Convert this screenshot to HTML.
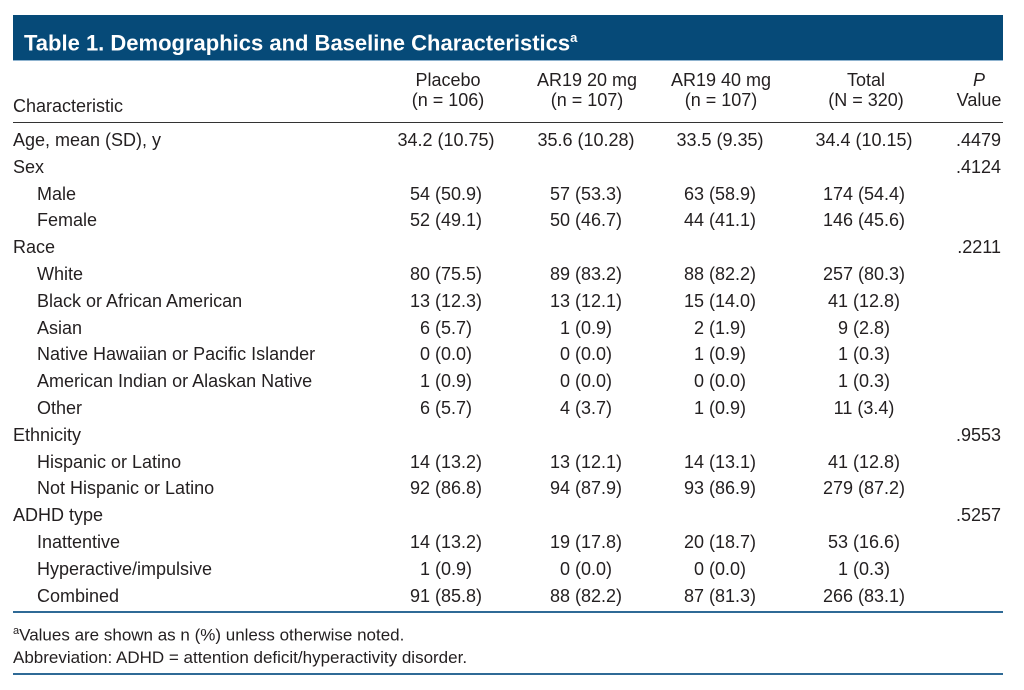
<!DOCTYPE html>
<html><head><meta charset="utf-8"><style>
body{margin:0;width:1024px;height:690px;background:#fff;font-family:"Liberation Sans",sans-serif;color:#231f20;position:relative;overflow:hidden}
.t{position:absolute;font-size:18px;white-space:nowrap;line-height:20px}
.c{transform:translateX(-50%)}
.r{transform:translateX(-100%)}
.hline{position:absolute;left:13px;width:990px;height:2px;background:#2f6a96}
</style></head><body>
<div style="position:absolute;left:13px;top:15px;width:990px;height:45px;background:#064a78;border-bottom:1px solid #8fb3cf"></div>
<div class="t" style="left:24px;top:25px;color:#fff;font-size:22px;font-weight:bold;line-height:26px">Table 1. Demographics and Baseline Characteristics<sup style="font-size:13px">a</sup></div>

<div class="t" style="left:13px;top:96px">Characteristic</div>
<div class="t c" style="left:448px;top:70px;text-align:center">Placebo<br>(n = 106)</div>
<div class="t c" style="left:587px;top:70px;text-align:center">AR19 20 mg<br>(n = 107)</div>
<div class="t c" style="left:721px;top:70px;text-align:center">AR19 40 mg<br>(n = 107)</div>
<div class="t c" style="left:866px;top:70px;text-align:center">Total<br>(N = 320)</div>
<div class="t c" style="left:979px;top:70px;text-align:center"><i>P</i><br>Value</div>
<div class="hline" style="top:122px;height:1px;background:#333"></div>

<div id="rows"></div>

<div class="hline" style="top:611px"></div>
<div class="t" style="left:13px;top:621px;font-size:17px"><sup style="font-size:11px">a</sup>Values are shown as n (%) unless otherwise noted.</div>
<div class="t" style="left:13px;top:648px;font-size:17px">Abbreviation: ADHD = attention deficit/hyperactivity disorder.</div>
<div class="hline" style="top:673px"></div>

<script>
const labels=["Age, mean (SD), y","Sex","Male","Female","Race","White","Black or African American","Asian","Native Hawaiian or Pacific Islander","American Indian or Alaskan Native","Other","Ethnicity","Hispanic or Latino","Not Hispanic or Latino","ADHD type","Inattentive","Hyperactive/impulsive","Combined"];
const indent=[0,0,1,1,0,1,1,1,1,1,1,0,1,1,0,1,1,1];
const placebo=["34.2 (10.75)","","54 (50.9)","52 (49.1)","","80 (75.5)","13 (12.3)","6 (5.7)","0 (0.0)","1 (0.9)","6 (5.7)","","14 (13.2)","92 (86.8)","","14 (13.2)","1 (0.9)","91 (85.8)"];
const ar20=["35.6 (10.28)","","57 (53.3)","50 (46.7)","","89 (83.2)","13 (12.1)","1 (0.9)","0 (0.0)","0 (0.0)","4 (3.7)","","13 (12.1)","94 (87.9)","","19 (17.8)","0 (0.0)","88 (82.2)"];
const ar40=["33.5 (9.35)","","63 (58.9)","44 (41.1)","","88 (82.2)","15 (14.0)","2 (1.9)","1 (0.9)","0 (0.0)","1 (0.9)","","14 (13.1)","93 (86.9)","","20 (18.7)","0 (0.0)","87 (81.3)"];
const total=["34.4 (10.15)","","174 (54.4)","146 (45.6)","","257 (80.3)","41 (12.8)","9 (2.8)","1 (0.3)","1 (0.3)","11 (3.4)","","41 (12.8)","279 (87.2)","","53 (16.6)","1 (0.3)","266 (83.1)"];
const pvals=[".4479",".4124","","",".2211","","","","","","",".9553","","",".5257","","",""];
const host=document.getElementById('rows');
function cell(txt,left,cls,top){
  const d=document.createElement('div');
  d.className='t '+cls;d.style.left=left+'px';d.style.top=top+'px';d.textContent=txt;
  host.appendChild(d);return d;
}
labels.forEach((lab,i)=>{
  const top=130+i*26.8;
  const a=cell(lab,13+indent[i]*24,'',top);
  
  
  const cols=[[placebo,446],[ar20,586],[ar40,720],[total,864]];
  cols.forEach(([arr,x])=>{ if(arr[i]){
    const d=cell(arr[i],x,'c',top);
    
    
  }});
  if(pvals[i]){
    const p=cell(pvals[i],1001,'r',top);
    
    
  }
});
</script>
</body></html>
